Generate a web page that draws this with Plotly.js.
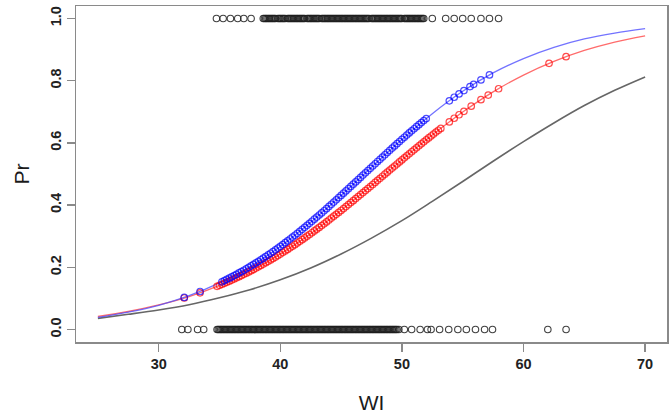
<!DOCTYPE html>
<html>
<head>
<meta charset="utf-8">
<script src="https://cdn.plot.ly/plotly-3.0.1.min.js"></script>
<style>html,body{margin:0;padding:0;background:#fff;}#chart{width:670px;height:418px;}</style>
</head>
<body>
<div id="chart"></div>
<script>
// Smooth fitted curves
var curveWI   = [25, 27.5, 30, 32.5, 35, 37.5, 40, 42.5, 45, 47.5, 50, 52.5, 55, 57.5, 60, 62.5, 65, 67.5, 70];
var blueCurve = [0.039, 0.056, 0.078, 0.109, 0.150, 0.202, 0.267, 0.345, 0.431, 0.522, 0.611, 0.694, 0.766, 0.825, 0.871, 0.907, 0.934, 0.953, 0.967];
var redCurve  = [0.042, 0.058, 0.079, 0.106, 0.142, 0.187, 0.243, 0.308, 0.383, 0.463, 0.545, 0.625, 0.699, 0.764, 0.818, 0.862, 0.897, 0.924, 0.944];
var grayCurve = [0.036, 0.049, 0.063, 0.080, 0.102, 0.128, 0.160, 0.198, 0.243, 0.294, 0.350, 0.412, 0.476, 0.541, 0.604, 0.664, 0.720, 0.769, 0.812];

// Fitted values at observations (blue)
var blueWI = [32.1, 33.4, 35.2, 35.4, 35.6, 35.8, 36.0, 36.2, 36.4, 36.6, 36.8, 37.0, 37.2, 37.4, 37.6, 37.8, 38.0, 38.2, 38.4, 38.6, 38.8, 39.0, 39.2, 39.4, 39.6, 39.8, 40.0, 40.2, 40.4, 40.6, 40.8, 41.0, 41.2, 41.4, 41.6, 41.8, 42.0, 42.2, 42.4, 42.6, 42.8, 43.0, 43.2, 43.4, 43.6, 43.8, 44.0, 44.2, 44.4, 44.6, 44.8, 45.0, 45.2, 45.4, 45.6, 45.8, 46.0, 46.2, 46.4, 46.6, 46.8, 47.0, 47.2, 47.4, 47.6, 47.8, 48.0, 48.2, 48.4, 48.6, 48.8, 49.0, 49.2, 49.4, 49.6, 49.8, 50.0, 50.2, 50.4, 50.6, 50.8, 51.0, 51.2, 51.4, 51.6, 51.8, 52.0, 53.9, 54.3, 54.7, 55.1, 55.6, 55.9, 56.5, 57.2];
var bluePr = [0.1034, 0.1224, 0.1534, 0.1574, 0.1613, 0.1652, 0.1692, 0.1734, 0.1776, 0.1819, 0.1862, 0.1907, 0.1953, 0.2000, 0.2047, 0.2095, 0.2143, 0.2193, 0.2243, 0.2295, 0.2347, 0.2400, 0.2453, 0.2508, 0.2563, 0.2619, 0.2676, 0.2733, 0.2791, 0.2851, 0.2911, 0.2971, 0.3032, 0.3094, 0.3157, 0.3221, 0.3285, 0.3349, 0.3414, 0.3481, 0.3548, 0.3615, 0.3682, 0.3750, 0.3818, 0.3887, 0.3957, 0.4027, 0.4097, 0.4169, 0.4241, 0.4312, 0.4384, 0.4455, 0.4527, 0.4600, 0.4673, 0.4745, 0.4817, 0.4891, 0.4965, 0.5037, 0.5110, 0.5183, 0.5257, 0.5329, 0.5402, 0.5473, 0.5545, 0.5618, 0.5691, 0.5761, 0.5832, 0.5903, 0.5975, 0.6044, 0.6114, 0.6182, 0.6250, 0.6319, 0.6388, 0.6454, 0.6520, 0.6586, 0.6653, 0.6717, 0.6781, 0.7353, 0.7467, 0.7575, 0.7681, 0.7809, 0.7883, 0.8025, 0.8183];

// Fitted values at observations (red)
var redWI = [32.1, 33.4, 34.8, 35.0, 35.2, 35.4, 35.6, 35.8, 36.0, 36.2, 36.4, 36.6, 36.8, 37.0, 37.2, 37.4, 37.6, 37.8, 38.0, 38.2, 38.4, 38.6, 38.8, 39.0, 39.2, 39.4, 39.6, 39.8, 40.0, 40.2, 40.4, 40.6, 40.8, 41.0, 41.2, 41.4, 41.6, 41.8, 42.0, 42.2, 42.4, 42.6, 42.8, 43.0, 43.2, 43.4, 43.6, 43.8, 44.0, 44.2, 44.4, 44.6, 44.8, 45.0, 45.2, 45.4, 45.6, 45.8, 46.0, 46.2, 46.4, 46.6, 46.8, 47.0, 47.2, 47.4, 47.6, 47.8, 48.0, 48.2, 48.4, 48.6, 48.8, 49.0, 49.2, 49.4, 49.6, 49.8, 50.0, 50.2, 50.4, 50.6, 50.8, 51.0, 51.2, 51.4, 51.6, 51.8, 52.0, 52.2, 52.4, 52.6, 52.8, 53.0, 53.2, 53.9, 54.3, 54.7, 55.1, 55.7, 56.5, 57.1, 57.95, 62.1, 63.5];
var redPr = [0.1015, 0.1182, 0.1389, 0.1421, 0.1453, 0.1486, 0.1520, 0.1555, 0.1590, 0.1626, 0.1662, 0.1699, 0.1736, 0.1774, 0.1812, 0.1852, 0.1892, 0.1933, 0.1975, 0.2017, 0.2060, 0.2104, 0.2148, 0.2193, 0.2238, 0.2284, 0.2331, 0.2379, 0.2427, 0.2476, 0.2526, 0.2576, 0.2627, 0.2678, 0.2729, 0.2782, 0.2835, 0.2890, 0.2945, 0.3000, 0.3055, 0.3112, 0.3169, 0.3226, 0.3283, 0.3341, 0.3400, 0.3460, 0.3521, 0.3582, 0.3643, 0.3704, 0.3766, 0.3827, 0.3889, 0.3952, 0.4016, 0.4080, 0.4144, 0.4209, 0.4274, 0.4338, 0.4403, 0.4467, 0.4531, 0.4596, 0.4662, 0.4729, 0.4796, 0.4862, 0.4928, 0.4994, 0.5060, 0.5125, 0.5190, 0.5255, 0.5322, 0.5388, 0.5454, 0.5519, 0.5585, 0.5650, 0.5715, 0.5778, 0.5842, 0.5906, 0.5970, 0.6033, 0.6097, 0.6159, 0.6222, 0.6284, 0.6346, 0.6406, 0.6466, 0.6675, 0.6792, 0.6904, 0.7016, 0.7179, 0.7388, 0.7538, 0.7740, 0.8556, 0.8770];

// Observed outcomes: WI values with Pr = 1 and Pr = 0
var obs1WI = [34.75, 35.3, 35.9, 36.5, 37.0, 37.6,
  38.6, 38.7, 38.8, 38.9, 39.0, 39.1, 39.2, 39.3, 39.4, 39.5, 39.6, 39.8, 39.9, 40.0, 40.1, 40.2, 40.3, 40.4, 40.6, 40.7, 40.8, 40.9, 41.0, 41.1, 41.2, 41.3, 41.4, 41.5, 41.6, 41.7, 41.8, 41.9, 42.0, 42.2, 42.3, 42.4, 42.5, 42.6, 42.7, 42.8, 42.9, 43.0, 43.1, 43.2, 43.4, 43.5, 43.6, 43.7, 43.8, 43.9, 44.0, 44.1, 44.2, 44.3, 44.4, 44.5, 44.6, 44.7, 44.8, 44.9, 45.0, 45.1, 45.2, 45.3, 45.4, 45.5, 45.6, 45.7, 45.8, 45.9, 46.0, 46.1, 46.2, 46.3, 46.4, 46.5, 46.6, 46.7, 46.8, 46.9, 47.0, 47.1, 47.2, 47.3, 47.5, 47.6, 47.7, 47.8, 47.9, 48.0, 48.1, 48.2, 48.3, 48.4, 48.5, 48.6, 48.7, 48.8, 48.9, 49.0, 49.1, 49.2, 49.3, 49.4, 49.5, 49.6, 49.7, 49.8, 49.9, 50.0, 50.2, 50.3, 50.4, 50.5, 50.6, 50.7, 50.8, 50.9, 51.0, 51.1, 51.2, 51.3, 51.4, 51.5, 51.6, 51.7, 51.8,
  52.5, 53.6, 54.3, 55.0, 55.7, 56.5, 57.2, 57.95];
var obs0WI = [31.9, 32.4, 33.2, 33.7,
  34.8, 34.9, 35.0, 35.1, 35.2, 35.3, 35.4, 35.5, 35.6, 35.7, 35.8, 35.9, 36.0, 36.1, 36.2, 36.3, 36.4, 36.5, 36.6, 36.7, 36.8, 36.9, 37.0, 37.1, 37.2, 37.3, 37.4, 37.5, 37.6, 37.7, 37.8, 37.9, 38.0, 38.1, 38.2, 38.3, 38.4, 38.5, 38.6, 38.7, 38.8, 38.9, 39.0, 39.1, 39.2, 39.3, 39.4, 39.5, 39.6, 39.7, 39.8, 39.9, 40.0, 40.1, 40.2, 40.3, 40.4, 40.5, 40.6, 40.7, 40.8, 40.9, 41.0, 41.1, 41.2, 41.3, 41.4, 41.5, 41.6, 41.7, 41.8, 41.9, 42.0, 42.1, 42.2, 42.3, 42.4, 42.5, 42.6, 42.7, 42.8, 42.9, 43.0, 43.1, 43.2, 43.3, 43.4, 43.5, 43.6, 43.7, 43.8, 43.9, 44.0, 44.1, 44.2, 44.3, 44.4, 44.5, 44.6, 44.7, 44.8, 44.9, 45.0, 45.1, 45.2, 45.3, 45.4, 45.5, 45.6, 45.7, 45.8, 45.9, 46.0, 46.1, 46.2, 46.3, 46.4, 46.5, 46.6, 46.7, 46.8, 46.9, 47.0, 47.1, 47.2, 47.3, 47.4, 47.5, 47.6, 47.7, 47.8, 47.9, 48.0, 48.1, 48.2, 48.3, 48.4, 48.5, 48.6, 48.7, 48.8, 48.9, 49.0, 49.1, 49.2, 49.3, 49.4, 49.5, 49.6, 49.75,
  50.2, 50.8, 51.5, 52.1, 52.4, 53.1, 53.85, 54.6, 55.3, 56.05, 56.8, 57.45, 62.0, 63.5];
var obs1Pr = obs1WI.map(function(){ return 1; });
var obs0Pr = obs0WI.map(function(){ return 0; });

var xTicks = [30, 40, 50, 60, 70];
var yTicks = [0.0, 0.2, 0.4, 0.6, 0.8, 1.0];
var yTickText = ["0.0", "0.2", "0.4", "0.6", "0.8", "1.0"];

var openCircle = function(color, w){
  return {symbol: 'circle-open', size: 6.5, color: color, line: {width: w, color: color}};
};

var traces = [
  {x: curveWI, y: grayCurve, mode: 'lines', line: {color: '#666666', width: 1.6, shape: 'spline'}, hoverinfo: 'skip'},
  {x: curveWI, y: redCurve, mode: 'lines', line: {color: 'rgba(255,70,70,0.8)', width: 1.3, shape: 'spline'}, hoverinfo: 'skip'},
  {x: curveWI, y: blueCurve, mode: 'lines', line: {color: 'rgba(80,80,255,0.8)', width: 1.3, shape: 'spline'}, hoverinfo: 'skip'},
  {x: redWI, y: redPr, mode: 'markers', marker: openCircle('rgba(255,0,0,0.7)', 1.2)},
  {x: blueWI, y: bluePr, mode: 'markers', marker: openCircle('rgba(0,0,255,0.7)', 1.2)},
  {x: obs1WI, y: obs1Pr, mode: 'markers', marker: openCircle('rgba(30,30,30,0.85)', 1.1)},
  {x: obs0WI, y: obs0Pr, mode: 'markers', marker: openCircle('rgba(30,30,30,0.85)', 1.1)}
];

var axisCommon = {
  showgrid: false, zeroline: false,
  showline: true, mirror: true, linecolor: '#8a8a8a', linewidth: 1.5,
  ticks: 'outside', ticklen: 8, tickwidth: 1.5, tickcolor: '#8a8a8a',
  tickfont: {family: 'Liberation Sans, Arial, sans-serif', size: 14.5, color: '#222', weight: 'bold'}
};

var layout = {
  width: 670, height: 418,
  margin: {l: 76, r: 3, t: 6, b: 76},
  paper_bgcolor: '#ffffff', plot_bgcolor: '#ffffff',
  showlegend: false,
  xaxis: Object.assign({}, axisCommon, {
    range: [23.2, 71.8], tickvals: xTicks, ticktext: xTicks.map(String),
    title: {text: 'WI', font: {family: 'Liberation Sans, Arial, sans-serif', size: 21, color: '#1a1a1a'}, standoff: 24}
  }),
  yaxis: Object.assign({}, axisCommon, {
    range: [-0.04, 1.04], tickvals: yTicks, ticktext: yTickText, tickangle: -90,
    title: {text: 'Pr', font: {family: 'Liberation Sans, Arial, sans-serif', size: 21, color: '#1a1a1a'}, standoff: 12}
  })
};

Plotly.newPlot('chart', traces, layout, {displayModeBar: false, staticPlot: true});
</script>
</body>
</html>
